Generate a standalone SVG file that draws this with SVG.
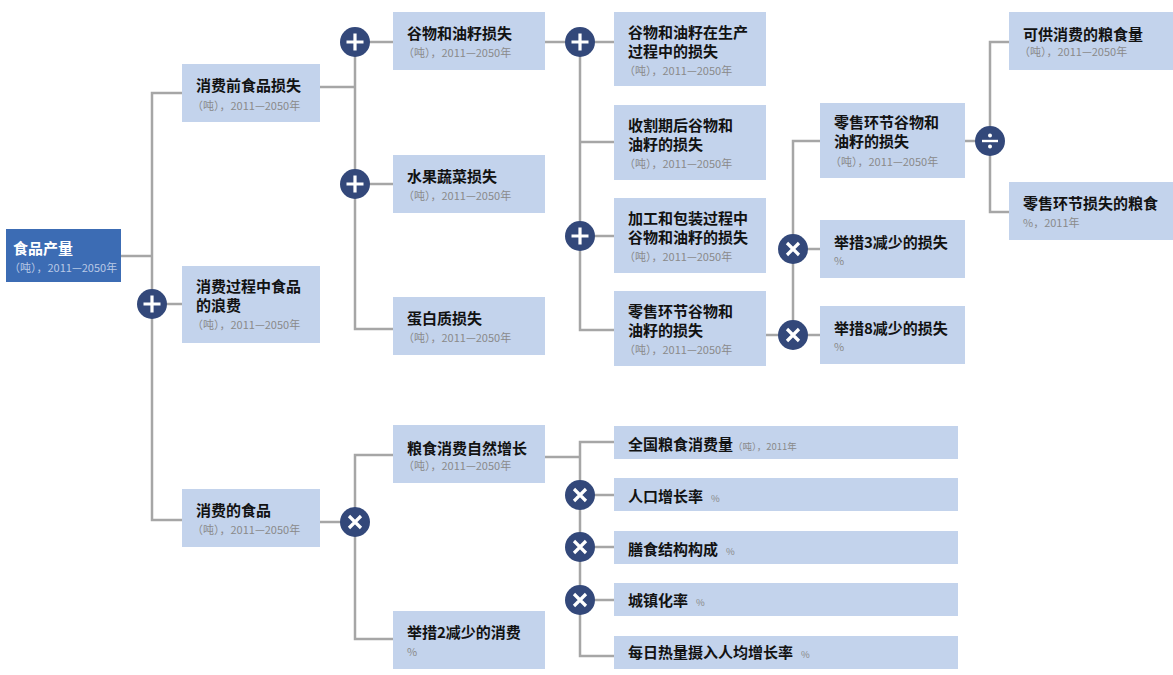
<svg xmlns="http://www.w3.org/2000/svg" xmlns:xlink="http://www.w3.org/1999/xlink" width="1173" height="675" viewBox="0 0 1173 675">
<style>
.box{fill:#c3d3ec}
.root{fill:#3c6cb4}
.t{font-family:"Noto Sans CJK SC","Noto Sans",sans-serif;font-weight:700;font-size:15px;fill:#121212}
.tw{font-family:"Noto Sans CJK SC","Noto Sans",sans-serif;font-weight:700;font-size:15px;fill:#ffffff}
.s{font-family:"Noto Sans CJK SC","Noto Sans",sans-serif;font-size:11px;fill:#8a8a8a}
.sw{font-family:"Noto Sans CJK SC","Noto Sans",sans-serif;font-size:11px;fill:#b9c9e6}
.ss{font-family:"Noto Sans CJK SC","Noto Sans",sans-serif;font-size:9.5px;fill:#8a8a8a;font-weight:400}
.ln{stroke:#a6a6a6;stroke-width:2.5;fill:none}
.op{fill:#33487a}
.ic{stroke:#ffffff;stroke-width:3.2;fill:none}
</style>
<defs>
<g id="plus"><circle class="op" r="15"/><path class="ic" d="M-8.5,0H8.5M0,-8.5V8.5"/></g>
<g id="times"><circle class="op" r="15"/><path class="ic" d="M-6,-6L6,6M6,-6L-6,6"/></g>
<g id="divide"><circle class="op" r="15"/><path class="ic" d="M-8,0H8" style="stroke-width:2.4"/><circle r="2" cx="0" cy="-5.5" fill="#fff"/><circle r="2" cx="0" cy="5.5" fill="#fff"/></g>
</defs>
<rect width="1173" height="675" fill="#ffffff"/>
<g id="connectors">
<path class="ln" d="M120,256H152"/>
<path class="ln" d="M182,93H152V520H182"/>
<path class="ln" d="M152,304H182"/>
<path class="ln" d="M320,87H355"/>
<path class="ln" d="M393,42H355V329H393"/>
<path class="ln" d="M355,184H393"/>
<path class="ln" d="M545,42H614"/>
<path class="ln" d="M580,42V330H614"/>
<path class="ln" d="M580,142H614"/>
<path class="ln" d="M580,236H614"/>
<path class="ln" d="M766,335H793"/>
<path class="ln" d="M820,141H793V335H820"/>
<path class="ln" d="M793,249H820"/>
<path class="ln" d="M965,141H990"/>
<path class="ln" d="M1009,42H990V212H1009"/>
<path class="ln" d="M320,522H355"/>
<path class="ln" d="M393,455H355V639H393"/>
<path class="ln" d="M545,457H580"/>
<path class="ln" d="M614,442H580V656H614"/>
<path class="ln" d="M580,495H614"/>
<path class="ln" d="M580,547H614"/>
<path class="ln" d="M580,600H614"/>
</g>
<g id="operators">
<use xlink:href="#plus" href="#plus" x="152" y="304"/>
<use xlink:href="#plus" href="#plus" x="355" y="42"/>
<use xlink:href="#plus" href="#plus" x="355" y="184"/>
<use xlink:href="#plus" href="#plus" x="580" y="42"/>
<use xlink:href="#plus" href="#plus" x="580" y="236"/>
<use xlink:href="#times" href="#times" x="793" y="249"/>
<use xlink:href="#times" href="#times" x="793" y="335"/>
<use xlink:href="#times" href="#times" x="355" y="522"/>
<use xlink:href="#times" href="#times" x="580" y="495"/>
<use xlink:href="#times" href="#times" x="580" y="547"/>
<use xlink:href="#times" href="#times" x="580" y="600"/>
<use xlink:href="#divide" href="#divide" x="990" y="141"/>
</g>
<g id="n-root"><rect class="root" x="6" y="229" width="115" height="53"/><text class="tw" x="13" y="254">食品产量</text><text class="sw" x="9" y="272">（吨），2011—2050年</text></g>
<g id="n-pre"><rect class="box" x="182" y="64" width="138" height="58"/><text class="t" x="196" y="91">消费前食品损失</text><text class="s" x="192" y="110">（吨），2011—2050年</text></g>
<g id="n-waste"><rect class="box" x="182" y="266" width="138" height="77"/><text class="t" x="196" y="292">消费过程中食品</text><text class="t" x="196" y="311">的浪费</text><text class="s" x="192" y="329">（吨），2011—2050年</text></g>
<g id="n-cons"><rect class="box" x="182" y="489" width="138" height="58"/><text class="t" x="196" y="516">消费的食品</text><text class="s" x="192" y="534">（吨），2011—2050年</text></g>
<g id="n-grain"><rect class="box" x="393" y="12" width="152" height="58"/><text class="t" x="407" y="39">谷物和油籽损失</text><text class="s" x="403" y="57">（吨），2011—2050年</text></g>
<g id="n-fruit"><rect class="box" x="393" y="155" width="152" height="58"/><text class="t" x="407" y="182">水果蔬菜损失</text><text class="s" x="403" y="200">（吨），2011—2050年</text></g>
<g id="n-protein"><rect class="box" x="393" y="297" width="152" height="58"/><text class="t" x="407" y="324">蛋白质损失</text><text class="s" x="403" y="342">（吨），2011—2050年</text></g>
<g id="n-prod"><rect class="box" x="614" y="12" width="152" height="74"/><text class="t" x="628" y="38">谷物和油籽在生产</text><text class="t" x="628" y="57">过程中的损失</text><text class="s" x="624" y="75">（吨），2011—2050年</text></g>
<g id="n-harv"><rect class="box" x="614" y="105" width="152" height="75"/><text class="t" x="628" y="131">收割期后谷物和</text><text class="t" x="628" y="150">油籽的损失</text><text class="s" x="624" y="168">（吨），2011—2050年</text></g>
<g id="n-proc"><rect class="box" x="614" y="198" width="152" height="75"/><text class="t" x="628" y="224">加工和包装过程中</text><text class="t" x="628" y="243">谷物和油籽的损失</text><text class="s" x="624" y="261">（吨），2011—2050年</text></g>
<g id="n-retail"><rect class="box" x="614" y="291" width="152" height="75"/><text class="t" x="628" y="317">零售环节谷物和</text><text class="t" x="628" y="336">油籽的损失</text><text class="s" x="624" y="354">（吨），2011—2050年</text></g>
<g id="n-retail2"><rect class="box" x="820" y="103" width="145" height="75"/><text class="t" x="834" y="128">零售环节谷物和</text><text class="t" x="834" y="147">油籽的损失</text><text class="s" x="830" y="166">（吨），2011—2050年</text></g>
<g id="n-m3"><rect class="box" x="820" y="220" width="145" height="58"/><text class="t" x="834" y="247.5">举措3减少的损失</text><text class="s" x="834" y="265">%</text></g>
<g id="n-m8"><rect class="box" x="820" y="306" width="145" height="58"/><text class="t" x="834" y="333.5">举措8减少的损失</text><text class="s" x="834" y="351">%</text></g>
<g id="n-avail"><rect class="box" x="1009" y="12" width="164" height="58"/><text class="t" x="1023" y="39.5">可供消费的粮食量</text><text class="s" x="1019" y="56">（吨），2011—2050年</text></g>
<g id="n-retailloss"><rect class="box" x="1009" y="182" width="164" height="58"/><text class="t" x="1023" y="208.5">零售环节损失的粮食</text><text class="s" x="1023" y="227">%，2011年</text></g>
<g id="n-natural"><rect class="box" x="393" y="425" width="152" height="58"/><text class="t" x="407" y="453.5">粮食消费自然增长</text><text class="s" x="403" y="470">（吨），2011—2050年</text></g>
<g id="n-m2"><rect class="box" x="393" y="611" width="152" height="58"/><text class="t" x="407" y="637.5">举措2减少的消费</text><text class="s" x="407" y="656">%</text></g>
<g id="n-national"><rect class="box" x="614" y="426" width="344" height="33"/><text class="t" x="628" y="449.5">全国粮食消费量<tspan class="ss" dx="0">（吨），2011年</tspan></text></g>
<g id="n-pop"><rect class="box" x="614" y="478" width="344" height="33"/><text class="t" x="628" y="501.5">人口增长率<tspan class="ss" dx="8">%</tspan></text></g>
<g id="n-diet"><rect class="box" x="614" y="531" width="344" height="33"/><text class="t" x="628" y="554.5">膳食结构构成<tspan class="ss" dx="8">%</tspan></text></g>
<g id="n-urban"><rect class="box" x="614" y="583" width="344" height="33"/><text class="t" x="628" y="606">城镇化率<tspan class="ss" dx="8">%</tspan></text></g>
<g id="n-cal"><rect class="box" x="614" y="636" width="344" height="33"/><text class="t" x="628" y="658">每日热量摄入人均增长率<tspan class="ss" dx="8">%</tspan></text></g>
</svg>
